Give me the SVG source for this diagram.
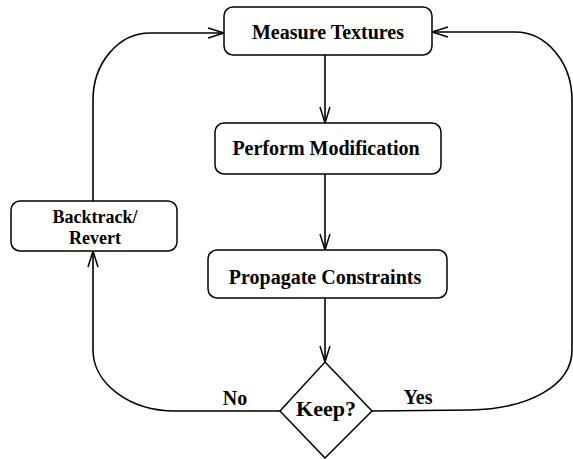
<svg xmlns="http://www.w3.org/2000/svg" width="573" height="459" viewBox="0 0 573 459">
<style>
.box{fill:#fff;stroke:#000;stroke-width:1.5}
.lbl{font-family:"Liberation Serif","Times New Roman",serif;font-weight:bold;font-size:20px;fill:#000;text-anchor:middle}
.edge{fill:none;stroke:#000;stroke-width:1.6}
</style>
<defs>
<marker id="arr" viewBox="0 0 16 10" refX="16" refY="5" markerWidth="16" markerHeight="10" markerUnits="userSpaceOnUse" orient="auto" overflow="visible">
<path d="M0,0 L16,5 L0,10" fill="none" stroke="#000" stroke-width="1.5"/>
</marker>
</defs>
<rect width="573" height="459" fill="#fff"/>
<g id="connectors">
<path class="edge" d="M325,55 L325,123" marker-end="url(#arr)"/>
<path class="edge" d="M325,174 L325,250" marker-end="url(#arr)"/>
<path class="edge" d="M325,298 L325,362" marker-end="url(#arr)"/>
<path class="edge" d="M280,411 L175,411 A82,61 0 0 1 93,350 L93,251" marker-end="url(#arr)"/>
<path class="edge" d="M93,201 L93,100 A57,67 0 0 1 150,33 L224,33" marker-end="url(#arr)"/>
<path class="edge" d="M372,411 L470,410 C528,409 572,386 572,350 L572,100 A57,68 0 0 0 515,32 L432,32" marker-end="url(#arr)"/>
<text class="lbl" x="235" y="405">No</text>
<text class="lbl" x="418" y="404">Yes</text>
</g>
<g id="measure">
<rect class="box" x="224" y="7" width="208" height="48" rx="9"/>
<text class="lbl" x="328" y="39">Measure Textures</text>
</g>
<g id="perform">
<rect class="box" x="215" y="123" width="226" height="51" rx="9"/>
<text class="lbl" x="326" y="155">Perform Modification</text>
</g>
<g id="propagate">
<rect class="box" x="208" y="250" width="239" height="48" rx="9"/>
<text class="lbl" x="325" y="284">Propagate Constraints</text>
</g>
<g id="keep">
<polygon class="box" points="325,362 372,411 325,458 280,411"/>
<text class="lbl" x="326" y="416" style="font-size:22px">Keep?</text>
</g>
<g id="backtrack">
<rect class="box" x="11" y="201" width="166" height="50" rx="9"/>
<text class="lbl" x="95" y="223" style="font-size:18px">Backtrack/</text>
<text class="lbl" x="95" y="244" style="font-size:18px">Revert</text>
</g>
</svg>
